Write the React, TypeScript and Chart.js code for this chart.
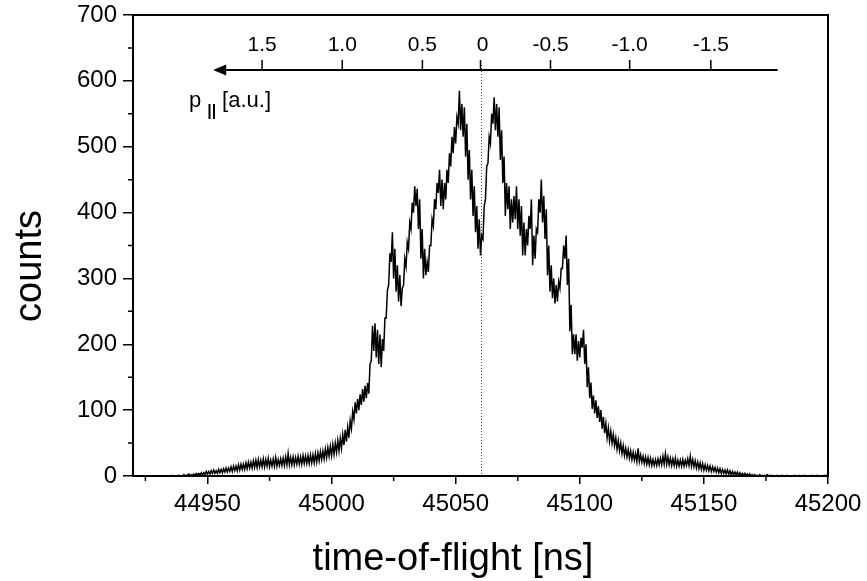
import React, { useEffect, useRef } from 'react';
import { Chart, registerables } from 'chart.js';

Chart.register(...registerables);

const FONT = '"Liberation Sans", Arial, Helvetica, sans-serif';

// Histogram bins: time-of-flight [ns], 1 ns wide, starting at tofStart
const tofStart = 44920;
const tofBinWidth = 1;

// lower edge of the noisy band per bin (counts)
const countsLow = [
  0, 0, 0, 0, 0, 0, 0, 0, 0, 0,
  0, 0, 0, 0, 0, 0, 0, 0, 0, 0,
  0, 0, 1, 0, 1, 1, 2, 1, 2, 2,
  3, 3, 4, 4, 4, 5, 5, 6, 6, 7,
  7, 8, 8, 9, 10, 10, 11, 12, 12, 13,
  13, 14, 14, 14, 15, 14, 15, 15, 15, 16,
  16, 16, 17, 17, 17, 17, 18, 18, 18, 19,
  19, 19, 20, 20, 21, 23, 25, 26, 28, 30,
  31, 33, 36, 38, 42, 47, 52, 58, 72, 86,
  95, 100, 108, 113, 118, 125, 175, 190, 180, 170,
  165, 190, 240, 290, 325, 300, 280, 265, 258, 290,
  318, 345, 375, 400, 410, 375, 330, 300, 305, 310,
  350, 380, 405, 430, 410, 405, 420, 445, 470, 490,
  505, 535, 525, 515, 485, 450, 420, 395, 370, 345,
  335, 360, 420, 475, 505, 535, 525, 515, 480, 445,
  395, 405, 375, 385, 390, 375, 365, 335, 335, 350,
  375, 320, 330, 370, 400, 385, 360, 305, 280, 270,
  262, 265, 285, 315, 330, 290, 220, 185, 185, 175,
  180, 195, 170, 135, 118, 102, 95, 88, 82, 72,
  65, 58, 53, 50, 46, 41, 38, 34, 31, 29,
  27, 25, 24, 22, 22, 21, 19, 18, 17, 16,
  16, 16, 17, 17, 18, 18, 17, 16, 16, 15,
  15, 15, 15, 16, 16, 15, 14, 12, 11, 10,
  9, 9, 8, 7, 7, 6, 5, 4, 4, 3,
  3, 2, 2, 2, 1, 1, 1, 0, 0, 0,
  0, 0, 0, 0, 0, 0, 0, 0, 0, 0,
  0, 0, 0, 0, 0, 0, 0, 0, 0, 0,
  0, 0, 0, 0, 0, 0, 0, 0, 0, 0,
  0,
];

// upper edge of the noisy band per bin (counts)
const countsHigh = [
  0, 0, 0, 0, 0, 0, 0, 0, 0, 0,
  0, 0, 0, 0, 0, 1, 0, 0, 1, 0,
  2, 1, 3, 2, 3, 4, 4, 5, 5, 7,
  7, 8, 9, 8, 10, 10, 11, 12, 12, 14,
  15, 15, 17, 18, 18, 20, 21, 21, 23, 24,
  25, 24, 26, 25, 27, 24, 26, 28, 25, 26,
  27, 29, 34, 28, 29, 28, 30, 29, 31, 30,
  31, 32, 32, 34, 35, 37, 38, 41, 43, 45,
  48, 50, 54, 57, 63, 70, 74, 84, 98, 112,
  117, 124, 132, 137, 141, 170, 228, 232, 222, 215,
  208, 240, 282, 338, 370, 345, 320, 305, 285, 330,
  355, 385, 415, 440, 436, 420, 375, 345, 325, 350,
  390, 420, 445, 465, 450, 445, 465, 490, 515, 530,
  545, 585, 565, 560, 535, 495, 465, 440, 410, 390,
  365, 410, 470, 515, 550, 575, 565, 560, 525, 485,
  445, 440, 420, 425, 440, 420, 410, 385, 375, 395,
  420, 365, 375, 420, 450, 425, 405, 350, 320, 300,
  290, 295, 315, 350, 365, 330, 260, 215, 215, 205,
  210, 222, 200, 165, 142, 122, 115, 106, 100, 90,
  80, 73, 68, 63, 58, 54, 50, 46, 42, 40,
  38, 36, 34, 42, 32, 30, 29, 28, 27, 25,
  25, 26, 27, 30, 34, 29, 27, 26, 27, 24,
  24, 25, 24, 26, 30, 25, 23, 21, 20, 19,
  17, 16, 15, 14, 13, 12, 11, 10, 9, 9,
  8, 7, 6, 6, 5, 4, 4, 3, 3, 2,
  2, 1, 2, 1, 1, 2, 1, 1, 0, 1,
  0, 1, 0, 1, 0, 0, 1, 0, 1, 0,
  1, 0, 0, 1, 0, 1, 0, 0, 1, 1,
  0,
];

// axis ticks
const xMin = 44920;
const xMax = 45200;
const xMajorTicks = [44950, 45000, 45050, 45100, 45150, 45200];
const xMinorTicks = [44925, 44975, 45025, 45075, 45125, 45175];
const yMin = 0;
const yMax = 700;
const yMajorTicks = [0, 100, 200, 300, 400, 500, 600, 700];
const yMinorTicks = [50, 150, 250, 350, 450, 550, 650];

const xTitle = 'time-of-flight [ns]';
const yTitle = 'counts';

// momentum (p||) scale drawn inside the plot
const pLabels = ['1.5', '1.0', '0.5', '0', '-0.5', '-1.0', '-1.5'];
const pTof = [44972.0, 45004.3, 45036.6, 45060.0, 45088.2, 45120.1, 45152.8];
const pZeroTof = 45060;
const arrowTipTof = 44952.3;
const arrowTailTof = 45179.7;
const arrowCounts = 616.5;
const pTitleTof = 44942.6;
const pTitleCounts = 560.7;

const decorPlugin = {
  id: 'tofDecor',
  beforeDatasetsDraw(chart: any) {
    const { ctx, chartArea, scales } = chart;
    const xs = scales.x;
    const ys = scales.y;
    const yLine = ys.getPixelForValue(arrowCounts);
    const px0 = Math.round(xs.getPixelForValue(pZeroTof)) + 0.5;
    ctx.save();
    ctx.strokeStyle = '#444';
    ctx.lineWidth = 1;
    ctx.setLineDash([1, 2]);
    ctx.beginPath();
    ctx.moveTo(px0, yLine - 5);
    ctx.lineTo(px0, chartArea.bottom);
    ctx.stroke();
    ctx.restore();
  },
  afterDatasetsDraw(chart: any) {
    const { ctx, chartArea, scales } = chart;
    const xs = scales.x;
    const ys = scales.y;
    ctx.save();
    ctx.strokeStyle = '#000';
    ctx.fillStyle = '#000';
    // top and right frame
    ctx.lineWidth = 2;
    ctx.beginPath();
    ctx.moveTo(chartArea.left - 1, chartArea.top);
    ctx.lineTo(chartArea.right, chartArea.top);
    ctx.lineTo(chartArea.right, chartArea.bottom + 1);
    ctx.stroke();
    // minor ticks
    ctx.lineWidth = 1.5;
    ctx.beginPath();
    xMinorTicks.forEach((v) => {
      const px = xs.getPixelForValue(v);
      ctx.moveTo(px, chartArea.bottom);
      ctx.lineTo(px, chartArea.bottom + 5);
    });
    yMinorTicks.forEach((v) => {
      const py = ys.getPixelForValue(v);
      ctx.moveTo(chartArea.left, py);
      ctx.lineTo(chartArea.left - 5, py);
    });
    ctx.stroke();

    // momentum arrow
    const yLine = ys.getPixelForValue(arrowCounts);
    const tip = xs.getPixelForValue(arrowTipTof);
    const tail = xs.getPixelForValue(arrowTailTof);
    ctx.lineWidth = 2;
    ctx.beginPath();
    ctx.moveTo(tail, yLine);
    ctx.lineTo(tip + 10, yLine);
    ctx.stroke();
    ctx.beginPath();
    ctx.moveTo(tip, yLine);
    ctx.lineTo(tip + 13, yLine - 5.5);
    ctx.lineTo(tip + 13, yLine + 5.5);
    ctx.closePath();
    ctx.fill();
    ctx.lineWidth = 1.5;
    ctx.beginPath();
    pTof.forEach((t) => {
      const px = xs.getPixelForValue(t);
      ctx.moveTo(px, yLine);
      ctx.lineTo(px, yLine - 10);
    });
    ctx.stroke();
    ctx.font = `21px ${FONT}`;
    ctx.textAlign = 'center';
    ctx.textBaseline = 'alphabetic';
    pLabels.forEach((lab, i) => {
      const px = xs.getPixelForValue(pTof[i]) + (lab === '0' ? 2 : 0);
      ctx.fillText(lab, px, yLine - 19);
    });
    // p|| [a.u.]
    const tx = xs.getPixelForValue(pTitleTof);
    const ty = ys.getPixelForValue(pTitleCounts);
    ctx.textAlign = 'left';
    ctx.font = `22px ${FONT}`;
    ctx.fillText('p', tx, ty);
    const pw = ctx.measureText('p').width;
    ctx.font = `bold 16px ${FONT}`;
    ctx.fillText('||', tx + pw + 6, ty + 9);
    ctx.font = `22px ${FONT}`;
    ctx.fillText('[a.u.]', tx + 33, ty);

    // axis titles
    ctx.font = `38px ${FONT}`;
    ctx.textAlign = 'center';
    ctx.textBaseline = 'middle';
    ctx.fillText(xTitle, 453, 560);
    ctx.translate(31, 266);
    ctx.rotate(-Math.PI / 2);
    ctx.fillText(yTitle, 0, 0);
    ctx.restore();
  },
};

export default function App() {
  const canvasRef = useRef<HTMLCanvasElement | null>(null);

  useEffect(() => {
    const canvas = canvasRef.current;
    if (!canvas) return;
    const points: { x: number; y: number }[] = [];
    countsLow.forEach((lo, i) => {
      const t = tofStart + i * tofBinWidth;
      points.push({ x: t, y: lo });
      points.push({ x: t + tofBinWidth / 2, y: countsHigh[i] });
    });

    const chart = new Chart(canvas, {
      type: 'line',
      data: {
        datasets: [
          {
            label: yTitle,
            data: points,
            borderColor: '#000',
            borderWidth: 1.5,
            pointRadius: 0,
            tension: 0,
            fill: false,
          },
        ],
      },
      options: {
        animation: false,
        responsive: false,
        parsing: false as any,
        normalized: true,
        layout: { padding: { top: 15, right: 39, bottom: 0, left: 0 } },
        plugins: {
          legend: { display: false },
          tooltip: { enabled: false },
        },
        events: [],
        scales: {
          x: {
            type: 'linear',
            min: xMin,
            max: xMax,
            afterBuildTicks: (axis: any) => {
              axis.ticks = xMajorTicks.map((v) => ({ value: v }));
            },
            afterFit: (axis: any) => {
              axis.height = 105;
              axis.paddingLeft = 0;
              axis.paddingRight = 0;
            },
            ticks: {
              callback: (v: any) => String(v),
              color: '#000',
              font: { family: FONT, size: 24 },
              padding: 6,
              maxRotation: 0,
              autoSkip: false,
            },
            grid: {
              display: true,
              drawOnChartArea: false,
              drawTicks: true,
              tickLength: 8,
              color: '#000',
              lineWidth: 1.5,
            },
            border: { display: true, color: '#000', width: 2 },
            title: { display: false, text: xTitle },
          },
          y: {
            type: 'linear',
            min: yMin,
            max: yMax,
            afterBuildTicks: (axis: any) => {
              axis.ticks = yMajorTicks.map((v) => ({ value: v }));
            },
            afterFit: (axis: any) => {
              axis.width = 133;
              axis.paddingTop = 0;
              axis.paddingBottom = 0;
            },
            ticks: {
              callback: (v: any) => String(v),
              color: '#000',
              font: { family: FONT, size: 24 },
              padding: 6,
              autoSkip: false,
            },
            grid: {
              display: true,
              drawOnChartArea: false,
              drawTicks: true,
              tickLength: 10,
              color: '#000',
              lineWidth: 1.5,
            },
            border: { display: true, color: '#000', width: 2 },
            title: { display: false, text: yTitle },
          },
        },
      },
      plugins: [decorPlugin],
    });

    return () => {
      chart.destroy();
    };
  }, []);

  return (
    <div style={{ position: 'absolute', left: 0, top: 0, width: 867, height: 581, background: '#fff' }}>
      <canvas ref={canvasRef} width={867} height={581} style={{ display: 'block' }} />
    </div>
  );
}
